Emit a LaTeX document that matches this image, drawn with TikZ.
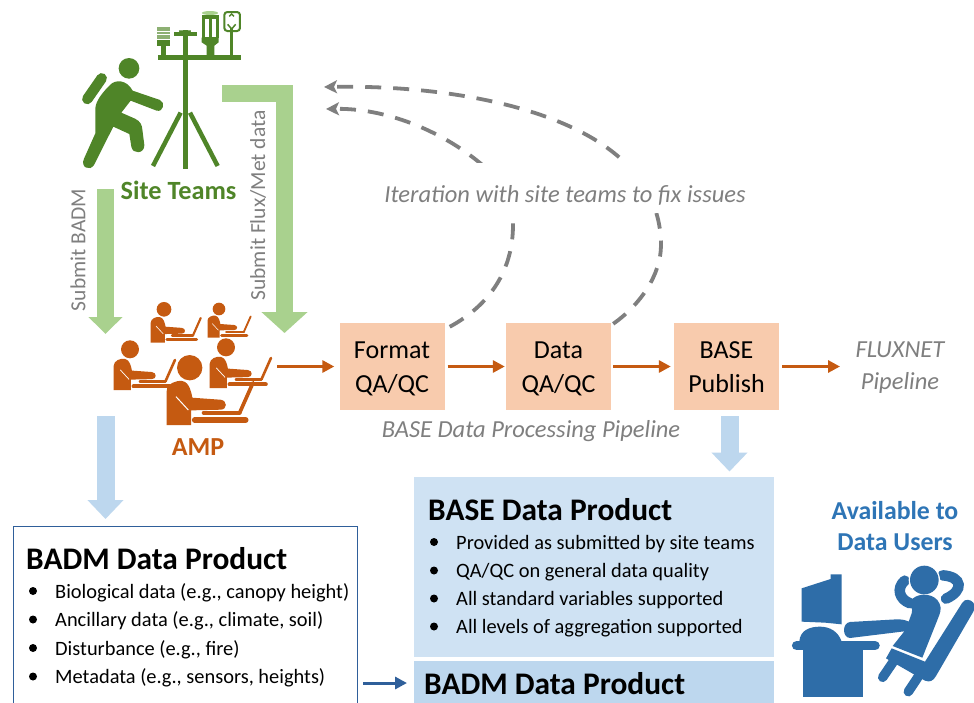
\documentclass[tikz,border=0pt]{standalone}
\usepackage{fontspec}
\setmainfont{Carlito}
\usetikzlibrary{arrows.meta,calc}
\definecolor{igreen}{HTML}{4F8528}
\definecolor{lgreen}{HTML}{A9D18E}
\definecolor{lblue}{HTML}{BDD7EE}
\definecolor{pblue}{HTML}{CFE2F3}
\definecolor{iblue}{HTML}{2E6DA8}
\definecolor{tblue}{HTML}{2E75B6}
\definecolor{dblue}{HTML}{2F5F9A}
\definecolor{orng}{HTML}{C55A11}
\definecolor{pch}{HTML}{F8CBAD}
\definecolor{gry}{HTML}{7F7F7F}
\newcommand{\fsz}[1]{\fontsize{#1pt}{#1pt}\selectfont}
\newcommand{\toprl}{\rule{0pt}{25pt}}
\newcommand{\botrl}{\rule[-7pt]{0pt}{7pt}}
\tikzset{
  procbox/.style={fill=pch,minimum width=105pt,minimum height=87pt,inner sep=0pt,align=center,font=\fsz{26},text=black},
  gnote/.style={text=gry,font=\fsz{24.5}\itshape,inner sep=0pt,align=center},
  vlabel/.style={text=gry,font=\fsz{21.5},rotate=90,inner sep=0pt},
  title/.style={anchor=base west,inner sep=0pt,font=\fsz{31.4}\bfseries,text=black},
  item/.style={anchor=base west,inner sep=0pt,font=\fsz{20.4},text=black},
  blockg/.style={draw=lgreen,line width=17pt,-{Triangle[length=17pt,width=33pt]}},
  blockgb/.style={draw=lgreen,line width=17pt,-{Triangle[length=21pt,width=45pt]}},
  blockb/.style={draw=lblue,line width=18pt,-{Triangle[length=19pt,width=35pt]}},
  orarrow/.style={draw=orng,line width=3.8pt,-{Triangle[length=12pt,width=12pt]}},
  dasharrow/.style={draw=gry,line width=3.8pt,dash pattern=on 16pt off 12pt,-{Stealth[length=13pt,width=13pt,inset=3pt]}},
}
% seated figure; origin = centre of head; #3 = pt per unit
\newcommand{\sitter}[3]{%
\begin{scope}[shift={(#1,#2)},x=#3pt,y=-#3pt]
 \fill[orng] (0,0) circle[radius=38];
 \fill[orng] (-69,172) -- (-69,70) .. controls (-69,48) and (-40,37) .. (-22,40)
   .. controls (0,44) and (5,75) .. (8,90) -- (92,96) .. controls (114,98) and (114,126) .. (92,126)
   -- (4,128) -- (4,172) -- cycle;
 \draw[white,line width=#3*3pt] (-41,87) -- (-4,127);
 \draw[orng,line width=#3*17pt,line cap=round] (15,157) -- (168,157);
 \draw[orng,line width=#3*12pt,line cap=round] (42,135) -- (150,135);
 \draw[orng,line width=#3*11pt,line cap=round] (150,135) -- (190,45);
\end{scope}}
\begin{document}
\begin{tikzpicture}[x=1pt,y=-1pt]
\useasboundingbox (0,0) rectangle (974,702);
\clip (0,0) rectangle (974,702);
\fill[white] (0,0) rectangle (974,702);

% process boxes
\node[procbox] (fmt) at (392,366.5) {\toprl Format\\[8pt]QA/QC\botrl};
\node[procbox] (dq) at (558.5,366.5) {\toprl Data\\[8pt]QA/QC\botrl};
\node[procbox] (pub) at (726.5,366.5) {\toprl BASE\\[8pt]Publish\botrl};

% free ends
\coordinate (itA) at (326,109);
\coordinate (itB) at (324,87);
\coordinate (ampout) at (277,366.5);
\coordinate (fluxin) at (840,366.5);
\coordinate (bs) at (105.5,189);
\coordinate (be) at (105.5,334);
\coordinate (fs) at (222,93.5);
\coordinate (fc) at (284.5,93.5);
\coordinate (fe) at (284.5,333);
\coordinate (lbs) at (105.5,416);
\coordinate (lbe) at (105.5,519);
\coordinate (rbs) at (729.5,416);
\coordinate (rbe) at (729.5,471.5);
\coordinate (ms) at (363,683);

% dashed iteration arrows
\draw[dasharrow] ($(fmt.north east)+(5,4)$) .. controls (490,305) and (513,270) .. (513,225)
   .. controls (513,195) and (495,175) .. (480,163) .. controls (440,130) and (385,108) .. (itA);
\draw[dasharrow] ($(dq.north east)+(2,1)$) .. controls (640,305) and (661,275) .. (661,245)
   .. controls (661,205) and (640,175) .. (620,158) .. controls (560,105) and (440,85) .. (itB);
\node[fill=white,minimum width=400pt,minimum height=50pt,inner sep=0pt] (itbg) at (565,188) {};
\node[gnote] (it) at (565,195) {Iteration with site teams to fix issues};

% block arrows
\draw[blockg] (bs) -- (be);
\draw[blockgb] (fs) -- (fc) -- (fe);
\draw[blockb] (lbs) -- (lbe);
\draw[blockb] (rbs) -- (rbe);
\node[vlabel] (sb) at (78,250) {Submit BADM};
\node[vlabel] (sf) at (258,205.5) {Submit Flux/Met data};

% orange arrows
\draw[orarrow] (ampout) -- ([xshift=-5pt]fmt.west);
\draw[orarrow] ([xshift=3pt]fmt.east) -- ([xshift=-1pt]dq.west);
\draw[orarrow] ([xshift=2pt]dq.east) -- ([xshift=-3pt]pub.west);
\draw[orarrow] ([xshift=3pt]pub.east) -- (fluxin);

% labels
\node[gnote] (pl) at (531,431.5) {BASE Data Processing Pipeline};
\node[gnote,align=center] (flux) at (900,368) {FLUXNET\\[7.5pt]Pipeline};
\node[inner sep=0pt,text=igreen,font=\fsz{26.3}\bfseries] (st) at (178.5,190) {Site Teams};
\node[inner sep=0pt,text=orng,font=\fsz{26}\bfseries] (amp) at (198,447) {AMP};
\node[inner sep=0pt,text=tblue,font=\fsz{25.8}\bfseries,align=center] (au) at (895,526) {Available to\\[5pt]Data Users};

% BADM product box
\node[draw=dblue,line width=1pt,fill=white,anchor=north west,minimum width=344pt,minimum height=190pt,inner sep=0pt] (badm) at (12.5,526) {};
\node[title] (bt) at (26,569) {BADM Data Product};
\foreach \yy/\tx/\nm in {598/{Biological data (e.g., canopy height)}/ba,626.5/{Ancillary data (e.g., climate, soil)}/bb,655/{Disturbance (e.g., fire)}/bc,683.5/{Metadata (e.g., sensors, heights)}/bd}{
  \fill[black] (33,\yy-7) circle[radius=4];
  \node[item] (\nm) at (55,\yy) {\tx};
}

% BASE product boxes
\node[fill=pblue,anchor=north west,minimum width=360pt,minimum height=180pt,inner sep=0pt] (base) at (414,477) {};
\node[fill=lblue,anchor=north west,minimum width=360pt,minimum height=50pt,inner sep=0pt] (bdm2) at (414,661) {};
\node[title] (bst) at (428,520) {BASE Data Product};
\node[title] (b2t) at (424,694) {BADM Data Product};
\foreach \yy/\tx/\nm in {549/{Provided as submitted by site teams}/pa,577.5/{QA/QC on general data quality}/pb,605.5/{All standard variables supported}/pc,633.5/{All levels of aggregation supported}/pd}{
  \fill[black] (434,\yy-7) circle[radius=4];
  \node[item] (\nm) at (456,\yy) {\tx};
}
\draw[draw=dblue,line width=3pt,-{Triangle[length=12pt,width=12pt]}] (ms) -- ([xshift=-7pt]bdm2.west |- ms);

% AMP figures
\sitter{164}{309.3}{0.1933}
\sitter{219}{309}{0.1667}
\sitter{130}{349.3}{0.2367}
\sitter{226}{347.3}{0.2367}
\sitter{189.7}{367.7}{0.3333}

% hiker
\begin{scope}[shift={(80,50)},x=.3333pt,y=-.3333pt]
 \fill[igreen] (147,55) circle[radius=31];
 \draw[igreen,line width=10.5pt,line cap=round] (65,85) -- (22,147);
 \fill[igreen] (90,105) .. controls (105,88) and (140,88) .. (158,122)
   -- (240,150) .. controls (257,158) and (250,187) .. (230,182)
   -- (152,152) -- (124,188) -- (165,206) .. controls (182,214) and (186,226) .. (187,238)
   -- (193,285) .. controls (194,312) and (158,314) .. (154,290)
   -- (148,252) -- (100,230) -- (42,345) .. controls (30,365) and (0,352) .. (12,326)
   -- (46,250) -- (46,175) .. controls (48,150) and (70,125) .. (90,105) -- cycle;
\end{scope}
% flux tower
\begin{scope}[shift={(60,0)},x=.3333pt,y=-.3333pt]
 \draw[igreen,line width=5.5pt] (376,90) -- (376,506);
 \draw[igreen,line width=4.5pt] (362,338) -- (279,498);
 \draw[igreen,line width=4.5pt] (390,338) -- (473,498);
\end{scope}
\begin{scope}[shift={(150,5)},x=.3333pt,y=-.3333pt]
 \draw[igreen,line width=5pt] (25,158) -- (272,158);
 \fill[igreen] (87,76) arc[start angle=180,end angle=0,radius=18] -- cycle;
 \draw[igreen,line width=3.8pt] (73,88) -- (140,88);
 % thermometer shield
 \foreach \yy in {68,76,84,92,100}{\draw[igreen!65,line width=2pt] (21,\yy) -- (60,\yy);}
 \fill[igreen] (20,106) rectangle (60,122);
 \fill[igreen] (33,122) rectangle (48,152);
 % instrument
 \fill[igreen] (155,30) rectangle (206,100);
 \fill[white] (165,42) rectangle (176,95);
 \fill[white] (185,42) rectangle (197,95);
 \fill[igreen] (155,98) -- (206,98) -- (206,112) -- (193,122) -- (193,152) -- (170,152) -- (170,122) -- (155,112) -- cycle;
 \fill[lgreen] (180,24) ellipse[x radius=24,y radius=6];
 % anemometer
 \draw[igreen,line width=2pt,rounded corners=3pt] (223,21) rectangle (270,78);
 \draw[igreen,line width=3.5pt] (245,70) -- (245,152);
 \draw[igreen,line width=1.3pt] (238,34) -- (245,27) -- (252,34);
 \draw[igreen,line width=1.5pt] (233,58) -- (245,72) -- (257,58);
\end{scope}

% data user: monitor and desk
\begin{scope}[shift={(780,480)},x=.3333pt,y=-.3333pt]
 \fill[iblue] (65,325) -- (152,297) -- (152,283) -- (185,283) -- (185,433) -- (135,428) -- (65,425) -- cycle;
 \fill[iblue] (70,650) -- (70,510) -- (248,510) -- (248,650) -- cycle;
 \fill[iblue] (58,485) .. controls (60,450) and (90,440) .. (120,440) .. controls (150,440) and (175,455) .. (185,485) -- cycle;
 \draw[iblue,line width=9.5pt,line cap=round] (50,497) -- (285,497);
\end{scope}
% data user: figure and chair
\begin{scope}[shift={(880,560)},x=.3333pt,y=-.3333pt]
 \draw[iblue,line width=10.5pt,line cap=round] (74,62) .. controls (48,85) and (58,118) .. (90,130);
 \draw[iblue,line width=10.5pt,line cap=round] (188,46) .. controls (248,50) and (252,92) .. (198,116);
 \fill[white] (133,60) circle[radius=47];
 \fill[iblue] (133,60) circle[radius=43];
 \fill[iblue] (90,125) .. controls (105,100) and (150,96) .. (172,120)
   .. controls (184,135) and (184,150) .. (178,165) -- (127,293) -- (38,258) -- (73,214)
   -- (-90,234) .. controls (-114,233) and (-114,188) .. (-90,186)
   -- (50,178) .. controls (65,178) and (78,180) .. (86,185) -- (95,160) .. controls (98,148) and (95,135) .. (90,125) -- cycle;
 \fill[iblue] (18,295) -- (35,265) -- (135,305) -- (247,128) .. controls (255,115) and (272,118) .. (280,128)
   .. controls (287,138) and (285,148) .. (280,155) -- (168,348) .. controls (160,362) and (150,368) .. (135,362) -- cycle;
 \draw[iblue,line width=9.5pt,line cap=round] (8,352) -- (40,305);
 \draw[iblue,line width=9.5pt,line cap=round] (85,395) -- (120,342);
\end{scope}
\end{tikzpicture}
\end{document}
